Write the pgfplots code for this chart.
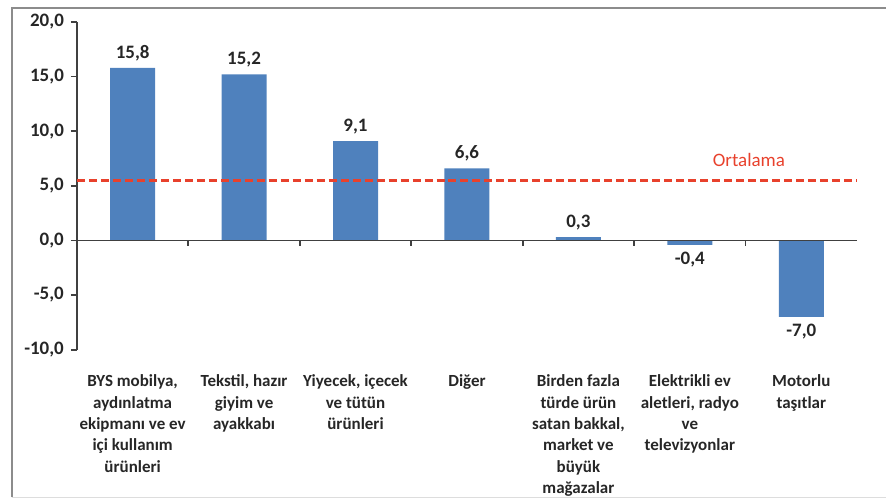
\documentclass[border=0pt]{standalone}
\usepackage{pgfplots}
\pgfplotsset{compat=1.18}
\usepackage{fontspec}
\setmainfont{Carlito}
\definecolor{barblue}{HTML}{4F81BD}
\definecolor{avgred}{HTML}{E8412C}
\definecolor{axisgray}{HTML}{404040}
\definecolor{framegray}{HTML}{8C8C8C}

\pgfplotstableread{
x  val
0  15.8
1  15.2
2  9.1
3  6.6
4  0.3
5  -0.4
6  -7.0
}\sales

\begin{document}
\begin{tikzpicture}
% whole picture area and frame (1 px of the reference = 0.5pt)
\path (-38.5pt,-75.5pt) rectangle (405pt,175pt);
\draw[framegray, line width=1pt] (-32.5pt,-74pt) -- (-32.5pt,171pt) -- (405pt,171pt);
\draw[framegray!30, line width=0.8pt] (-32.5pt,-74pt) -- (405pt,-74pt);
\begin{axis}[
    scale only axis,
    width=390.5pt,
    height=164pt,
    at={(0pt,0pt)}, anchor=south west,
    xmin=-0.5, xmax=6.5,
    ymin=-10, ymax=20,
    ytick={-10,-5,0,5,10,15,20},
    axis y line=left,
    axis x line=bottom,
    x axis line style={draw=none},
    y axis line style={axisgray, line width=0.9pt, -},
    xtick=data,
    xtick style={draw=none},
    ytick style={axisgray, line width=0.9pt},
    tick align=outside,
    major tick length=3pt,
    xticklabels={
        {BYS mobilya,\\aydınlatma\\ekipmanı ve ev\\içi kullanım\\ürünleri},
        {Tekstil, hazır\\giyim ve\\ayakkabı},
        {Yiyecek, içecek\\ve tütün\\ürünleri},
        {Diğer},
        {Birden fazla\\türde ürün\\satan bakkal,\\market ve\\büyük\\mağazalar},
        {Elektrikli ev\\aletleri, radyo\\ve\\televizyonlar},
        {Motorlu\\taşıtlar}},
    xticklabel style={align=center, anchor=north, yshift=-6pt,
        font=\bfseries\fontsize{8.5}{10.75}\selectfont, text=black!85},
    yticklabel style={font=\bfseries\fontsize{9.5}{11}\selectfont, text=black!85},
    /pgf/number format/.cd, fixed, fixed zerofill, precision=1, use comma,
    assume math mode=true,
    /pgfplots/.cd,
    clip=false,
    ybar,
    bar width=22.5pt,
    nodes near coords,
    nodes near coords style={font=\bfseries\fontsize{9.5}{11}\selectfont, text=black!85},
]
\addplot[fill=barblue, draw=none] table[x=x, y=val] {\sales};
% zero line with category boundary ticks
\draw[axisgray, line width=0.9pt] (axis cs:-0.5,0) -- (axis cs:6.5,0);
\pgfplotsinvokeforeach{0.5,1.5,2.5,3.5,4.5,5.5}{
    \draw[axisgray, line width=0.9pt] (axis cs:#1,0) -- ([yshift=-3pt]axis cs:#1,0);
}
% average line
\draw[avgred, line width=1.5pt, dash pattern=on 4pt off 2pt] (axis cs:-0.5,5.5) -- (axis cs:6.5,5.5);
\node[avgred, font=\fontsize{9.5}{11}\selectfont] at (axis cs:5.53,7.4) {Ortalama};
\end{axis}
\end{tikzpicture}
\end{document}
